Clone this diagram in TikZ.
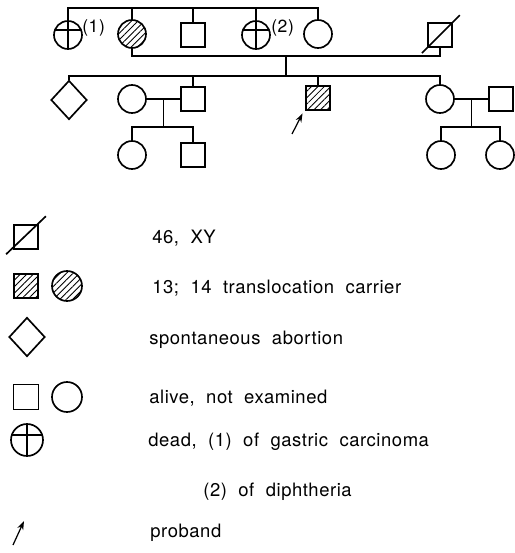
\documentclass[tikz,border=0pt]{standalone}
\usepackage{fontspec}
\setmainfont{TeX Gyre Heros}
\newfontfamily\legfam[LetterSpace=3]{TeX Gyre Heros}
\usetikzlibrary{arrows.meta,calc,shapes.geometric,patterns.meta}
\newcommand{\legfont}{\legfam\fontsize{10.5}{12}\selectfont\spaceskip=0.62em plus 0.1em\relax}
\tikzset{
  ped/.style={line width=0.95pt},
  male/.style={draw, line width=0.95pt, minimum size=0.48cm, inner sep=0pt},
  female/.style={circle, draw, line width=0.95pt, minimum size=0.56cm, inner sep=0pt},
  carrier/.style={pattern={Lines[angle=45,distance=2.6pt,line width=0.5pt]}},
  dead/.style={path picture={
      \draw[line width=0.95pt] (path picture bounding box.north) -- (path picture bounding box.south);
      \draw[line width=0.95pt] ([yshift=3pt]path picture bounding box.west) -- ([yshift=3pt]path picture bounding box.east);}},
  abort/.style={diamond, draw, line width=0.95pt, minimum width=0.72cm, minimum height=0.78cm, inner sep=0pt},
  txt/.style={font=\legfont, anchor=base west, inner sep=0pt},
  lab/.style={font=\legfam\fontsize{10}{12}\selectfont, anchor=base west, inner sep=0pt},
  prb/.style={-{Stealth[length=5pt,width=3.5pt]}, line width=0.7pt},
}

\begin{document}
\begin{tikzpicture}[x=0.02cm, y=-0.02cm]
\useasboundingbox (0,0) rectangle (514,553);
% generation I
\node[female, dead] (I1) at (68,35) {};
\node[female, carrier] (I2) at (132,34) {};
\node[male] (I3) at (193,35) {};
\node[female, dead] (I4) at (256,35) {};
\node[female] (I5) at (318,34) {};
\node[male] (I6) at (440,35) {};
\node[lab] (n1) at (82,33) {(1)};
\node[lab] (n2) at (271,33) {(2)};
\coordinate (sibI) at (0,8);
\coordinate (marI) at (0,56);
\coordinate (sibII) at (0,76);
\coordinate (sibIII) at (0,127);
\draw[ped] (I1.north) -- (I1.north |- sibI) -- (I5.north |- sibI) -- (I5.north);
\foreach \n in {I2,I3,I4} \draw[ped] (\n.north) -- (\n.north |- sibI);
\draw[ped] (I2.south) -- (I2.south |- marI) -- (I6.south |- marI) -- (I6.south);
\draw[ped] ([shift={(-3pt,-3pt)}]I6.south west) -- ([shift={(4pt,4pt)}]I6.north east);
\coordinate (dI) at ($(I2.south |- marI)!0.5!(I6.south |- marI)$);
\draw[ped] (dI) -- (dI |- sibII);
% generation II
\node[abort] (II1) at (69,100) {};
\node[female] (II2) at (132,99) {};
\node[male] (II3) at (193,99) {};
\node[male, carrier] (II4) at (318,98) {};
\node[female] (II5) at (440,99) {};
\node[male] (II6) at (501,99) {};
\draw[ped] (II1.north) -- (II1.north |- sibII) -- (II5.north |- sibII) -- (II5.north);
\foreach \n in {II3,II4} \draw[ped] (\n.north) -- (\n.north |- sibII);
\draw[ped] (II2) -- (II3);
\draw[ped] (II5) -- (II6);
\coordinate (dII) at ($(II2.east)!0.5!(II3.west)$);
\coordinate (dIIb) at ($(II5.east)!0.5!(II6.west)$);
\draw[ped] (dII) -- (dII |- sibIII);
\draw[ped] (dIIb) -- (dIIb |- sibIII);
\coordinate (pa) at (292,134);
\draw[prb] (pa) -- ([shift={(-1.5pt,-1.5pt)}]II4.south west);
% generation III
\node[female] (III1) at (132,155) {};
\node[male] (III2) at (193,155) {};
\node[female] (III3) at (441,155) {};
\node[female] (III4) at (500,155) {};
\draw[ped] (III1.north) -- (III1.north |- sibIII) -- (III2.north |- sibIII) -- (III2.north);
\draw[ped] (III3.north) -- (III3.north |- sibIII) -- (III4.north |- sibIII) -- (III4.north);
% legend
\node[male] (L1) at (26,237) {};
\draw[ped] ([shift={(-4pt,-2.5pt)}]L1.south west) -- ([shift={(4pt,4.5pt)}]L1.north east);
\node[male, carrier] (L2) at (26,286) {};
\node[female, carrier, minimum size=0.6cm] (L3) at (67,286) {};
\node[abort] (L4) at (27,337) {};
\node[male, minimum size=0.5cm] (L5) at (26,397) {};
\node[female, minimum size=0.6cm] (L6) at (67,397) {};
\node[female, dead, minimum size=0.64cm] (L7) at (27,440) {};
\coordinate (pb0) at (13,545);
\coordinate (pb1) at (24,521);
\draw[prb] (pb0) -- (pb1);
\node[txt] (t1) at (152,244) {46, XY};
\node[txt] (t2) at (152,294) {13; 14 translocation carrier};
\node[txt] (t3) at (149,344) {spontaneous abortion};
\node[txt] (t4) at (149,403) {alive, not examined};
\node[txt] (t5) at (148,446) {dead, (1) of gastric carcinoma};
\node[txt] (t6) at (203,496) {(2) of diphtheria};
\node[txt] (t7) at (150,537) {proband};
\end{tikzpicture}
\end{document}
